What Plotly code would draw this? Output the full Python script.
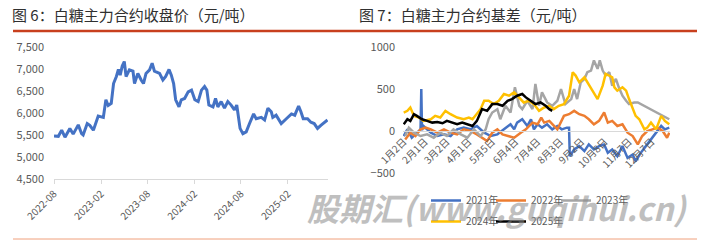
import plotly.graph_objects as go

# ---------------- Left: sugar main contract close price ----------------
close_dates = ["2022-08-01","2022-08-18","2022-08-31","2022-09-13","2022-10-02","2022-10-15","2022-11-04",
    "2022-11-17","2022-11-23","2022-12-09","2022-12-19","2023-01-02","2023-01-21","2023-02-10","2023-02-20",
    "2023-03-01","2023-03-13","2023-03-22","2023-04-02","2023-04-10","2023-04-17","2023-04-25","2023-05-03",
    "2023-05-10","2023-05-23","2023-06-06","2023-06-12","2023-06-25","2023-07-08","2023-07-17","2023-07-27",
    "2023-08-10","2023-08-20","2023-08-29","2023-09-18","2023-10-01","2023-10-12","2023-10-25","2023-11-03",
    "2023-11-12","2023-11-20","2023-12-03","2023-12-12","2023-12-25","2024-01-08","2024-01-21","2024-02-03",
    "2024-02-16","2024-02-29","2024-03-12","2024-03-21","2024-03-29","2024-04-14","2024-04-24","2024-05-03",
    "2024-05-16","2024-05-29","2024-06-11","2024-06-24","2024-07-07","2024-07-16","2024-07-24","2024-07-29",
    "2024-08-09","2024-08-22","2024-09-04","2024-09-20","2024-09-30","2024-10-20","2024-11-02","2024-11-15",
    "2024-11-28","2024-12-04","2024-12-17","2025-01-06","2025-01-26","2025-02-15","2025-02-28","2025-03-15",
    "2025-03-24","2025-04-02","2025-04-19","2025-05-02","2025-05-15","2025-05-28","2025-06-10","2025-06-23",
    "2025-07-06"]
close_values = [5480,5470,5610,5450,5650,5520,5730,5530,5500,5760,5720,5610,5930,5900,6300,6170,6220,6670,
    6830,6990,6860,7070,7170,6830,6980,6950,6670,6900,6750,6670,6900,6980,7130,6950,6900,6750,6830,6990,
    6860,6670,6300,6140,6300,6330,6480,6520,6300,6260,6520,6600,6520,6180,6140,6330,6140,6260,6110,6260,
    6180,6070,6180,5840,5650,5530,5570,5760,5980,5870,5900,5840,6110,6030,5900,5950,5760,5870,5980,5950,
    6160,6030,5870,5870,5790,5760,5650,5720,5770,5840]
left_tickvals = ["2022-08-01","2023-02-01","2023-08-01","2024-02-01","2024-08-01","2025-02-01"]
left_ticktext = ["2022-08","2023-02","2023-08","2024-02","2024-08","2025-02"]

# ---------------- Right: basis by year (x = day of year) ----------------
right_tickvals = [2,31,61,91,123,155,185,216,245,277,310,341]
right_ticktext = ["1月2日","2月1日","3月2日","4月1日","5月5日","6月4日","7月4日","8月3日","9月2日","10月8日","11月7日","12月7日"]

d2021 = [2,7,13,20,25,26,27,29,39,48,57,66,75,84,93,102,112,121,130,139,148,153,157,164,171,176,180,185,191,198,
         205,212,218,225,228,229,235,242,249,255,262,269,276,281,287,294,301,308,315,319,326,333,340,347,354,359,365]
v2021 = [-60,20,-80,-20,20,500,10,60,-20,-60,-40,-60,20,40,20,60,-20,-60,-40,20,80,20,100,140,60,140,20,80,40,80,
         20,60,20,40,40,-300,-220,-180,-240,-160,-220,-180,-160,-260,-220,-300,-180,-320,-280,-360,-260,-180,-100,-20,60,20,40]

d2022 = [4,11,18,25,32,39,48,57,66,75,84,93,102,112,116,123,130,137,144,153,162,169,178,185,190,194,201,207,212,
         221,228,235,242,249,255,262,269,276,281,287,294,301,308,315,322,328,335,342,349,356,362,365]
v2022 = [-100,-20,-60,20,40,20,-20,20,-20,-40,20,0,-40,-100,-120,-20,20,-40,-60,-80,-20,20,100,80,160,100,120,60,20,
         180,200,240,200,180,140,80,120,220,100,120,60,80,-20,-60,-160,-60,0,20,40,0,-80,-20]

d2023 = [4,9,16,25,34,43,52,61,70,80,89,98,107,114,118,123,130,134,141,148,154,160,164,171,178,182,187,191,198,205,
         212,217,223,231,235,239,244,249,253,258,262,267,270,274,278,283,287,292,296,301,306,310,317,322,365]
v2023 = [-60,40,-20,-60,-40,-80,-20,-60,20,-40,-80,20,-60,20,140,220,260,140,300,220,520,300,260,360,260,560,300,460,340,300,
         360,500,320,380,500,380,580,620,700,720,840,740,840,720,660,700,540,620,520,420,360,320,340,340,140]

d2024 = [2,7,11,16,23,29,39,45,52,59,66,75,84,91,96,102,107,112,118,125,132,139,146,153,160,166,173,180,187,194,
         201,207,214,221,228,233,237,242,249,254,260,267,274,278,283,287,290,294,301,306,310,315,319,324,331,335,340,347,354,359,365]
v2024 = [220,240,280,180,160,120,140,180,160,240,200,160,140,160,140,200,260,360,360,320,360,440,420,460,400,340,360,320,240,280,
         300,260,300,320,420,700,660,580,640,560,480,380,540,680,660,640,520,480,520,480,380,260,180,140,20,40,100,20,180,120,80]

d2025 = [2,7,11,16,20,27,34,41,48,55,61,68,75,82,89,96,102,109,116,123,130,137,144,150,157,164,169,176,182,189,196,201,205]
v2025 = [80,140,120,200,180,140,120,100,108,92,120,100,80,100,80,60,120,260,240,320,320,300,360,380,420,440,400,360,320,340,300,260,240]

series_names = ["2021年", "2022年", "2023年", "2024年", "2025年"]
series_x = [d2021, d2022, d2023, d2024, d2025]
series_y = [v2021, v2022, v2023, v2024, v2025]
series_colors = ["#4472C4", "#ED7D31", "#A5A5A5", "#FFC000", "#000000"]
# legend slot (left x px, top y px) for each series
legend_slots = [(426, 186), (491, 186), (556, 186), (426, 207), (491, 207)]

W, H = 705, 240
def px(x): return x / W
def py(y): return 1 - y / H

FONT = "Noto Sans CJK SC"
LBL = "#595959"

fig = go.Figure()
fig.add_trace(go.Scatter(x=close_dates, y=close_values, mode="lines",
                         line=dict(color="#4472C4", width=3), showlegend=False,
                         xaxis="x", yaxis="y"))
legends = {}
for i, (name, d, v, c) in enumerate(zip(series_names, series_x, series_y, series_colors)):
    lg = "legend" if i == 0 else f"legend{i+1}"
    fig.add_trace(go.Scatter(x=d, y=v, mode="lines", name=name,
                             line=dict(color=c, width=2.5), xaxis="x2", yaxis="y2", legend=lg))
    sx, sy = legend_slots[i]
    legends[lg] = dict(orientation="h", xanchor="left", yanchor="top", x=px(sx), y=py(sy),
                       font=dict(size=10, color=LBL), bgcolor="rgba(0,0,0,0)",
                       itemwidth=30, tracegroupgap=0)

r_ymin, r_ymax = -500, 1000
r_dom = [py(173), py(47)]
zero_pos = r_dom[0] + (0 - r_ymin) / (r_ymax - r_ymin) * (r_dom[1] - r_dom[0])

fig.update_layout(
    width=W, height=H, margin=dict(l=0, r=0, t=0, b=0, autoexpand=False),
    paper_bgcolor="white", plot_bgcolor="white",
    font=dict(family=FONT, color=LBL, size=10),
    separators=".,",
    xaxis=dict(domain=[px(54), px(328)], type="date", range=["2022-08-01", "2025-07-08"],
               tickvals=left_tickvals, ticktext=left_ticktext, tickangle=-45, automargin=False,
               showline=True, linecolor="#D9D9D9", linewidth=1, ticks="outside", ticklen=4,
               tickcolor="#D9D9D9", showgrid=False, zeroline=False,
               tickfont=dict(size=10, color=LBL), anchor="y"),
    yaxis=dict(domain=[py(179), py(47)], range=[4500, 7500], dtick=500, tickformat=",d",
               showgrid=False, zeroline=False, showline=False, automargin=False,
               ticklabelstandoff=9, tickfont=dict(size=11, color=LBL), anchor="x"),
    xaxis2=dict(domain=[px(403), px(670)], range=[1, 366], tickvals=right_tickvals,
                ticktext=right_ticktext, tickangle=-45, anchor="free", position=zero_pos,
                showline=True, linecolor="#D9D9D9", linewidth=1, ticks="", showgrid=False,
                zeroline=False, automargin=False, tickfont=dict(size=10, color=LBL)),
    yaxis2=dict(domain=r_dom, range=[r_ymin, r_ymax], dtick=500, tickformat="d",
                showgrid=False, zeroline=False, showline=False, automargin=False,
                ticklabelstandoff=7, tickfont=dict(size=11, color=LBL), anchor="x2"),
    **legends,
)

fig.add_annotation(text="图 6：白糖主力合约收盘价（元/吨）", x=px(10), y=py(14), xref="paper", yref="paper",
                   xanchor="left", yanchor="middle", showarrow=False,
                   font=dict(family=FONT, size=15, color="#303030"))
fig.add_annotation(text="图 7：白糖主力合约基差（元/吨）", x=px(357), y=py(14), xref="paper", yref="paper",
                   xanchor="left", yanchor="middle", showarrow=False,
                   font=dict(family=FONT, size=15, color="#303030"))
fig.add_annotation(text="股期汇(www.guqihui.cn)", x=px(497), y=py(207), xref="paper", yref="paper",
                   xanchor="center", yanchor="middle", showarrow=False, opacity=0.55,
                   font=dict(family=FONT, size=32, color="#8C8C8C", weight="bold", style="italic"))

fig.add_shape(type="line", x0=px(13), x1=px(697), y0=py(31), y1=py(31), xref="paper", yref="paper",
              line=dict(color="#C8401E", width=2.5))
fig.add_shape(type="line", x0=px(13), x1=px(697), y0=py(239), y1=py(239), xref="paper", yref="paper",
              line=dict(color="#F0A07C", width=1))

fig.write_html("out.html")
